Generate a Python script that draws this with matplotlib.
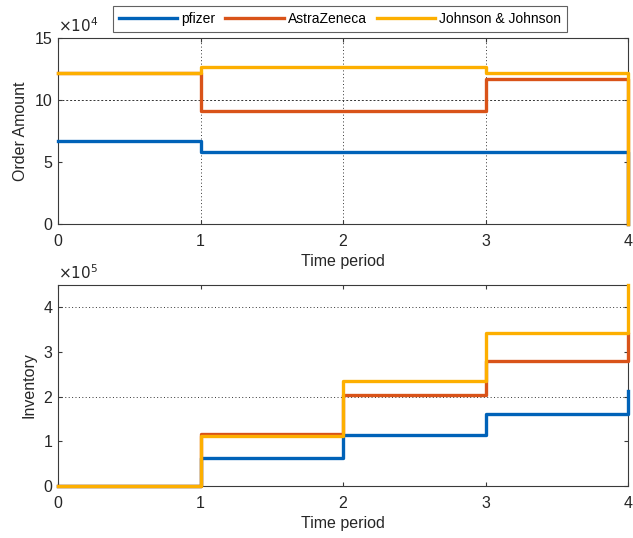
import matplotlib
matplotlib.use("Agg")
import matplotlib.pyplot as plt
from matplotlib.ticker import FuncFormatter

plt.rcParams['font.family'] = ['Liberation Sans', 'DejaVu Sans']

# Données
periods = [0, 1, 2, 3, 4]
names = ["pfizer", "AstraZeneca", "Johnson & Johnson"]
colors = ["#0062B8", "#D95319", "#FDAF00"]

order_pfizer = [67000, 58000, 58000, 58000, 0]
order_astra = [122000, 91000, 91000, 117000, 0]
order_jj = [122000, 127000, 127000, 122000, 0]

inv_pfizer = [0, 62000, 115000, 162000, 212000]
inv_astra = [0, 117000, 203000, 280000, 340000]
inv_jj = [0, 112000, 235000, 342000, 450000]

orders = [order_pfizer, order_astra, order_jj]
inventory = [inv_pfizer, inv_astra, inv_jj]

fig = plt.figure(figsize=(6.33, 5.38), dpi=100)
ax1 = fig.add_axes([58 / 633, 1 - 224 / 538, 570 / 633, 186 / 538])
ax2 = fig.add_axes([58 / 633, 1 - 486 / 538, 570 / 633, 201 / 538])

def style_axis(ax):
    for s in ax.spines.values():
        s.set_color("#3a3a3a")
        s.set_linewidth(0.8)
    ax.tick_params(direction="in", top=True, right=True, length=3,
                   labelsize=11.5, color="#3a3a3a", labelcolor="#262626")
    ax.tick_params(axis="x", pad=7)
    ax.tick_params(axis="y", pad=4)
    ax.set_xlim(0, 4)
    ax.set_xticks([0, 1, 2, 3, 4])
    ax.set_xlabel("Time period", fontsize=11.5, color="#262626", labelpad=4)

# Quantités commandées
lines = []
for vals, c, n in zip(orders, colors, names):
    l, = ax1.step(periods, vals, where="post", color=c, lw=2.4, label=n,
                  clip_on=False, zorder=3)
    lines.append(l)
for x in [1, 2, 3]:
    ax1.axvline(x, color="#333333", lw=0.7, ls=(0, (1, 2.5)), zorder=0)
ax1.axhline(100000, color="#333333", lw=0.7, ls=(0, (2, 2)), zorder=0)
ax1.set_ylim(0, 150000)
ax1.set_yticks([0, 50000, 100000, 150000])
ax1.yaxis.set_major_formatter(FuncFormatter(lambda v, p: f"{v / 1e4:g}"))
ax1.set_ylabel("Order Amount", fontsize=11.5, color="#262626", labelpad=5)
style_axis(ax1)
ax1.text(0.0, 1.015, r"$\times10^4$", transform=ax1.transAxes, fontsize=11,
         color="#262626", ha="left", va="bottom")

# Stock
for vals, c in zip(inventory, colors):
    ax2.step(periods, vals, where="post", color=c, lw=2.4, clip_on=False, zorder=3)
for y in [200000, 400000]:
    ax2.axhline(y, color="#333333", lw=0.7, ls=(0, (1, 2.5)), zorder=0)
ax2.set_ylim(0, 450000)
ax2.set_yticks([0, 100000, 200000, 300000, 400000])
ax2.yaxis.set_major_formatter(FuncFormatter(lambda v, p: f"{v / 1e5:g}"))
ax2.set_ylabel("Inventory", fontsize=11.5, color="#262626", labelpad=5)
style_axis(ax2)
ax2.text(0.0, 1.015, r"$\times10^5$", transform=ax2.transAxes, fontsize=11,
         color="#262626", ha="left", va="bottom")

leg = fig.legend(handles=lines, loc="center", ncol=3, bbox_to_anchor=(340 / 633, 1 - 19 / 538),
                 fontsize=10, frameon=True, fancybox=False, handlelength=4.2,
                 handletextpad=0.3, columnspacing=0.7, borderpad=0.45)
leg.get_frame().set_edgecolor("#3a3a3a")
leg.get_frame().set_linewidth(0.8)

fig.savefig("out.png", dpi=100)
